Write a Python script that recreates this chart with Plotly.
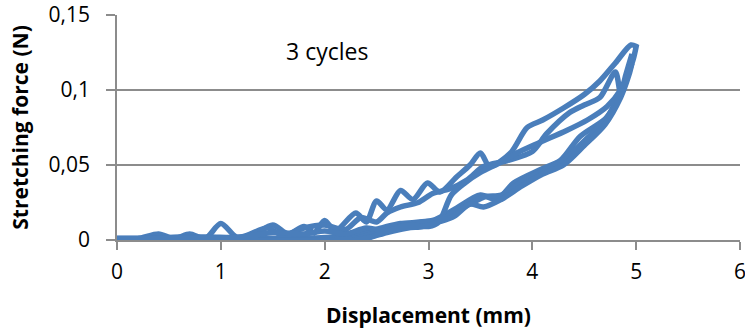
import plotly.graph_objects as go

# Displacement (mm) and stretching force (N) for three load/unload cycles
load1_x = [0, 0.2, 0.4, 0.55, 0.7, 0.85, 1.0, 1.15, 1.3, 1.5, 1.65, 1.8, 1.9, 2.0, 2.1, 2.3, 2.4, 2.5,
           2.6, 2.73, 2.85, 2.99, 3.11, 3.27, 3.4, 3.5, 3.59, 3.79, 3.95, 4.1, 4.3, 4.5, 4.65, 4.8, 4.95, 5.0]
load1_y = [0.001, 0.001, 0.004, 0.001, 0.004, 0.001, 0.011, 0.002, 0.003, 0.010, 0.004, 0.009, 0.005,
           0.013, 0.006, 0.018, 0.012, 0.026, 0.020, 0.033, 0.027, 0.038, 0.032, 0.042, 0.050, 0.058,
           0.049, 0.058, 0.075, 0.080, 0.088, 0.097, 0.106, 0.118, 0.130, 0.129]

load2_x = [0, 0.3, 0.6, 0.9, 1.2, 1.45, 1.6, 1.8, 2.0, 2.2, 2.35, 2.5, 2.6, 2.73, 2.9, 3.04, 3.2, 3.37,
           3.53, 3.76, 4.0, 4.14, 4.36, 4.5, 4.65, 4.8, 4.85, 4.9, 4.96]
load2_y = [0.001, 0.001, 0.002, 0.002, 0.002, 0.008, 0.003, 0.008, 0.010, 0.007, 0.015, 0.012, 0.018,
           0.022, 0.025, 0.031, 0.034, 0.040, 0.049, 0.053, 0.059, 0.071, 0.085, 0.090, 0.095, 0.112,
           0.098, 0.110, 0.124]

load3_x = [0, 0.4, 0.8, 1.2, 1.5, 1.8, 2.0, 2.2, 2.4, 2.6, 2.8, 3.0, 3.1, 3.22, 3.35, 3.5, 3.7, 3.85,
           4.07, 4.33, 4.53, 4.72, 4.85, 4.96]
load3_y = [0.001, 0.001, 0.001, 0.002, 0.005, 0.004, 0.006, 0.004, 0.008, 0.006, 0.010, 0.009, 0.012,
           0.030, 0.038, 0.045, 0.052, 0.058, 0.065, 0.073, 0.080, 0.089, 0.100, 0.118]

unload1_x = [5.0, 4.97, 4.87, 4.72, 4.46, 4.27, 4.08, 3.82, 3.66, 3.5, 3.24, 3.04, 2.73, 2.6, 2.45,
             2.3, 2.1, 1.8, 1.5, 1.0, 0.5, 0]
unload1_y = [0.129, 0.120, 0.102, 0.082, 0.069, 0.053, 0.047, 0.038, 0.027, 0.030, 0.020, 0.013,
             0.011, 0.009, 0.006, 0.003, 0.002, 0.001, 0.001, 0.001, 0.001, 0.001]

unload2_x = [4.96, 4.93, 4.85, 4.7, 4.5, 4.3, 4.1, 3.9, 3.7, 3.55, 3.4, 3.25, 3.1, 2.95, 2.8, 2.6,
             2.45, 2.3, 2.0, 1.5, 1.0, 0.5, 0]
unload2_y = [0.124, 0.115, 0.098, 0.080, 0.066, 0.053, 0.046, 0.039, 0.030, 0.029, 0.024, 0.019,
             0.013, 0.012, 0.010, 0.007, 0.004, 0.001, 0.001, 0.001, 0.001, 0.001, 0.001]

unload3_x = [4.96, 4.93, 4.85, 4.7, 4.5, 4.3, 4.1, 3.9, 3.7, 3.53, 3.4, 3.25, 3.1, 2.95, 2.8, 2.6,
             2.45, 2.3, 2.0, 1.5, 1.0, 0.5, 0]
unload3_y = [0.118, 0.110, 0.095, 0.077, 0.063, 0.050, 0.044, 0.036, 0.027, 0.022, 0.024, 0.016,
             0.012, 0.009, 0.008, 0.005, 0.002, 0.000, 0.000, 0.000, 0.000, 0.000, 0.000]

cycles = [
    (load1_x + unload1_x, load1_y + unload1_y),
    (load2_x + unload2_x, load2_y + unload2_y),
    (load3_x + unload3_x, load3_y + unload3_y),
]

line_color = "#4A7EBB"
axis_color = "#8C8C8C"
font_family = "Open Sans, Liberation Sans, sans-serif"

fig = go.Figure()
for cx, cy in cycles:
    fig.add_trace(go.Scatter(
        x=cx, y=cy, mode="lines",
        line=dict(color=line_color, width=5.5, shape="spline", smoothing=0.8),
        showlegend=False, hoverinfo="skip",
    ))

fig.update_layout(
    width=745, height=332,
    margin=dict(l=117, r=5, t=15, b=92),
    paper_bgcolor="white", plot_bgcolor="white",
    separators=", ",
    font=dict(family=font_family, size=21, color="black"),
    annotations=[dict(
        text="3 cycles", x=2.02, y=0.126, xref="x", yref="y",
        showarrow=False, font=dict(size=23, family=font_family, color="black"),
    )],
)

fig.update_xaxes(
    range=[0, 6], dtick=1, showgrid=False, automargin=False,
    showline=True, linecolor=axis_color, linewidth=1.5,
    ticks="outside", ticklen=8, tickcolor=axis_color, tickwidth=1.5,
    tickfont=dict(size=21), ticklabelstandoff=4, ticklabeloverflow="allow",
    title=dict(text="<b>Displacement (mm)</b>", font=dict(size=21), standoff=24),
    zeroline=False,
)
fig.update_yaxes(
    range=[0, 0.15], dtick=0.05, showgrid=True, gridcolor=axis_color, gridwidth=1.5,
    showline=True, linecolor=axis_color, linewidth=1.5, automargin=False,
    ticks="outside", ticklen=9, tickcolor=axis_color, tickwidth=1.5,
    tickfont=dict(size=21), ticklabelstandoff=12,
    title=dict(text="<b>Stretching force (N)</b>", font=dict(size=21), standoff=14),
    zeroline=False,
)

fig.write_html("out.html")
